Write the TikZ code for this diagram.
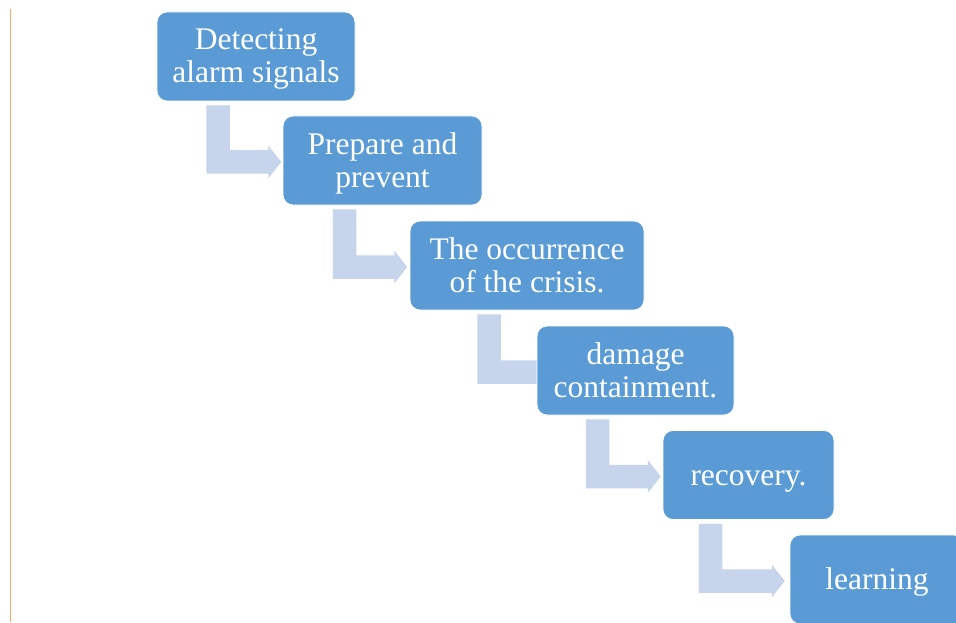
\documentclass[tikz,border=0pt]{standalone}
\usepackage{fontspec}
\setmainfont{Liberation Serif}
\usetikzlibrary{calc,backgrounds}
\definecolor{boxblue}{HTML}{5B9BD5}
\definecolor{arrowblue}{HTML}{C6D5EB}
\definecolor{sideorange}{HTML}{F6AC68}
\tikzset{
  stepbox/.style={draw=white, line width=0.8pt, fill=boxblue, rounded corners=10pt,
    inner sep=0pt, text=white, font=\fontsize{31.5}{33}\selectfont, align=center,
    minimum height=89pt},
  arrowfill/.style={fill=arrowblue}
}
\newcommand\TopStrut{\rule{0pt}{27pt}}
\newcommand\BotStrut{\rule[-7pt]{0pt}{7pt}}
% #1 from box, #2 to box, #3 length from the bar's left edge to the tip
\newcommand\steparrow[3]{%
  \fill[arrowfill] let \p1=(#1.south), \p2=(#2.west) in
   (\x1-49.75pt,\y1-4pt) -- (\x1-26.25pt,\y1-4pt)
   -- (\x1-26.25pt,\y2-1.5pt+11.75pt) -- (\x1-49.75pt+#3pt-13pt,\y2-1.5pt+11.75pt)
   -- (\x1-49.75pt+#3pt-13pt,\y2-1.5pt+16.5pt) -- (\x1-49.75pt+#3pt,\y2-1.5pt)
   -- (\x1-49.75pt+#3pt-13pt,\y2-1.5pt-16.5pt) -- (\x1-49.75pt+#3pt-13pt,\y2-1.5pt-11.75pt)
   -- (\x1-49.75pt,\y2-1.5pt-11.75pt) -- cycle;}
\begin{document}
\begin{tikzpicture}[x=1pt,y=-1pt]
\clip (0,0) rectangle (956,623);
\draw[sideorange, line width=1.7pt] (10.5,9) -- (10.5,622);

\node[stepbox, minimum width=198pt] (b1) at (256,56.5)
  {\TopStrut Detecting\\alarm signals\BotStrut};
\node[stepbox, minimum width=199pt] (b2) at (382.5,160.5)
  {\TopStrut Prepare and\\prevent\BotStrut};
\node[stepbox, minimum width=234pt] (b3) at (527,265.5)
  {\TopStrut The occurrence\\of the crisis.\BotStrut};
\node[stepbox, minimum width=197pt] (b4) at (635.5,370.5)
  {\TopStrut damage\\containment.\BotStrut};
\node[stepbox, minimum width=171pt] (b5) at (748.5,475)
  {\TopStrut recovery.\BotStrut};
\node[stepbox, minimum width=174pt] (b6) at (877,579.5)
  {\TopStrut learning\BotStrut};

\begin{scope}[on background layer]
\fill[white] (0,0) rectangle (956,623);
\steparrow{b1}{b2}{75}
\steparrow{b2}{b3}{74.5}
\steparrow{b3}{b4}{75}
\steparrow{b4}{b5}{75}
\steparrow{b5}{b6}{86}
\end{scope}
\end{tikzpicture}
\end{document}
